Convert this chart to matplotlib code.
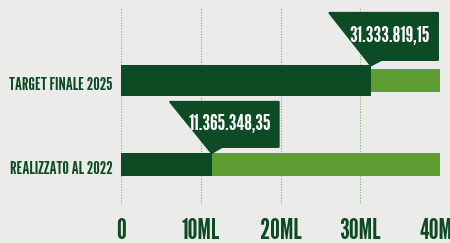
import matplotlib
matplotlib.use("Agg")
import matplotlib.pyplot as plt
import matplotlib.transforms as mtransforms
from matplotlib import font_manager
from matplotlib.patches import Polygon

# data
categories = ["REALIZZATO AL 2022", "TARGET FINALE 2025"]
values = [11365348.35, 31333819.15]
value_labels = ["11.365.348,35", "31.333.819,15"]
target_max = 40e6
ticks = [0, 10e6, 20e6, 30e6, 40e6]
tick_labels = ["0", "10ML", "20ML", "30ML", "40ML"]

DARK = "#0c4b23"
LIGHT = "#5d9d33"
GRID = "#76b453"
BG = "#ebebea"

# condensed display font if there is one, else narrow fallback
installed = {f.name for f in font_manager.fontManager.ttflist}
wanted = ["League Gothic", "Bebas Neue", "Oswald", "Liberation Sans Narrow"]
family = [f for f in wanted if f in installed] + ["DejaVu Sans"]
plt.rcParams["font.family"] = family

fig = plt.figure(figsize=(4.5, 2.43), dpi=100, facecolor=BG)
ax = fig.add_axes([0.2689, 0.1605, 0.709, 0.807])
ax.set_facecolor(BG)

ypos = [0, 1]
bg_h = [0.275, 0.275]
fg_h = [0.275, 0.371]

# light "full scale" bars, then progress bars on top
ax.barh(ypos, [target_max] * 2, height=bg_h, color=LIGHT, zorder=2)
ax.barh(ypos, values, height=fg_h, color=DARK, zorder=3)

# callout boxes with slanted pointer down to the bar end
box_top = [0.749, 1.814]
box_bot = [0.21, 1.251]
for y, v, lab, top, bot, h in zip(ypos, values, value_labels, box_top, box_bot, fg_h):
    tip_y = y + h / 2
    left = v - 5.2e6
    right = left + 13.6e6
    pts = [(left, top), (right, top), (right, bot), (v + 1.3e6, bot), (v, tip_y)]
    ax.add_patch(Polygon(pts, closed=True, facecolor=DARK, edgecolor=DARK,
                         lw=1.5, joinstyle="round", zorder=4))
    ax.text(right - 1.0e6, (top + bot) / 2, lab, color="white", fontsize=16,
            fontweight="bold", ha="right", va="center", zorder=5)

ax.set_xlim(0, 40e6)
ax.set_ylim(-0.473, 1.874)
ax.set_xticks(ticks)
ax.set_xticklabels(tick_labels)
ax.set_yticks(ypos)
ax.set_yticklabels(categories)
ax.tick_params(axis="x", length=0, pad=10, labelsize=20, labelcolor=DARK)
ax.tick_params(axis="y", length=0, pad=6, labelsize=13, labelcolor=DARK)
shift = mtransforms.ScaledTranslation(0, -2 / 72, fig.dpi_scale_trans)
for lbl in ax.get_yticklabels():
    lbl.set_transform(lbl.get_transform() + shift)
for lbl in ax.get_xticklabels() + ax.get_yticklabels():
    lbl.set_fontweight("bold")
ax.grid(axis="x", color=GRID, linestyle=(0, (1, 1.5)), linewidth=0.8, zorder=1)
ax.grid(axis="y", visible=False)
for s in ax.spines.values():
    s.set_visible(False)

fig.savefig("out.png", dpi=100, facecolor=BG)
